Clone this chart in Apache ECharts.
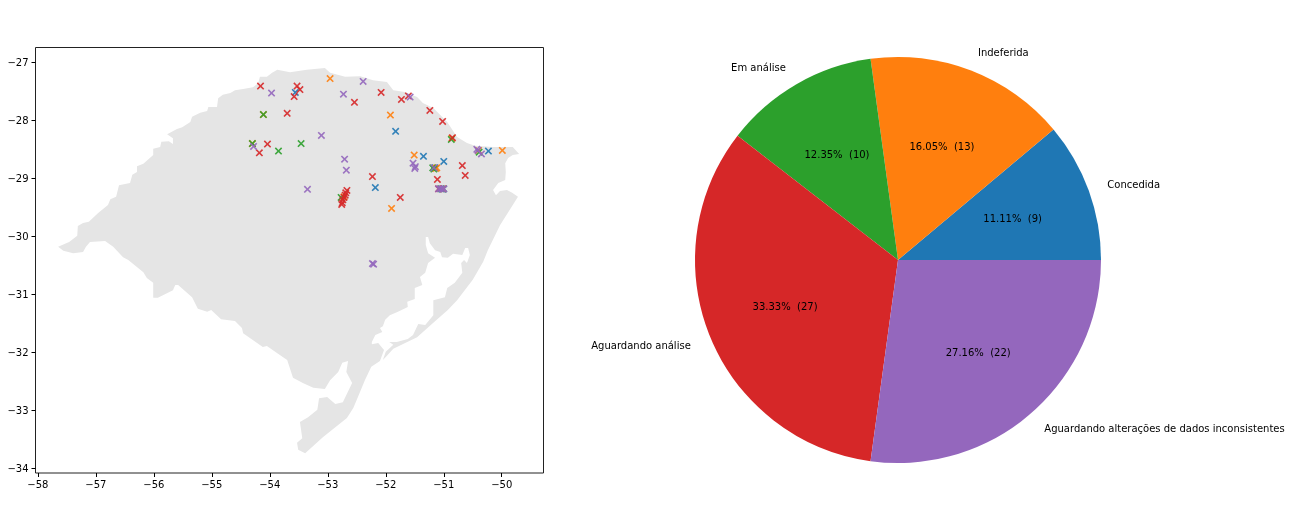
<!DOCTYPE html>
<html><head><meta charset="utf-8">
<style>html,body{margin:0;padding:0;background:#fff}#c{width:1292px;height:521px}</style>
<script src="https://cdn.jsdelivr.net/npm/echarts@6/dist/echarts.min.js"></script>
</head><body><div id="c"></div>
<script>
const xTicks=[-58,-57,-56,-55,-54,-53,-52,-51,-50];
const yTicks=[-34,-33,-32,-31,-30,-29,-28,-27];
const outline=[[-57.65,-30.18],[-57.46,-30.10],[-57.32,-29.99],[-57.31,-29.82],[-57.22,-29.77],[-57.12,-29.75],[-56.96,-29.60],[-56.79,-29.46],[-56.75,-29.36],[-56.65,-29.32],[-56.60,-29.12],[-56.41,-29.08],[-56.37,-28.94],[-56.29,-28.89],[-56.29,-28.79],[-56.18,-28.75],[-56.01,-28.60],[-56.01,-28.49],[-55.89,-28.46],[-55.87,-28.37],[-55.74,-28.36],[-55.67,-28.41],[-55.67,-28.31],[-55.77,-28.24],[-55.60,-28.15],[-55.51,-28.12],[-55.37,-28.03],[-55.34,-27.94],[-55.20,-27.87],[-55.08,-27.84],[-55.06,-27.77],[-54.91,-27.77],[-54.89,-27.62],[-54.81,-27.56],[-54.68,-27.53],[-54.60,-27.48],[-54.46,-27.46],[-54.29,-27.43],[-54.20,-27.36],[-54.17,-27.25],[-54.05,-27.25],[-53.96,-27.18],[-53.87,-27.13],[-53.65,-27.17],[-53.36,-27.13],[-53.05,-27.10],[-52.96,-27.18],[-52.70,-27.25],[-52.44,-27.24],[-52.22,-27.31],[-51.98,-27.34],[-51.87,-27.48],[-51.67,-27.51],[-51.46,-27.60],[-51.36,-27.70],[-51.18,-27.79],[-50.94,-28.03],[-50.77,-28.29],[-50.60,-28.39],[-50.46,-28.44],[-50.15,-28.46],[-49.81,-28.46],[-49.70,-28.58],[-49.81,-28.60],[-49.89,-28.65],[-49.94,-28.74],[-49.93,-28.89],[-49.94,-29.03],[-50.06,-29.08],[-50.15,-29.20],[-50.10,-29.29],[-50.03,-29.22],[-49.91,-29.20],[-49.82,-29.25],[-49.72,-29.32],[-50.03,-29.81],[-50.24,-30.24],[-50.32,-30.44],[-50.50,-30.75],[-50.77,-31.10],[-50.93,-31.27],[-51.18,-31.49],[-51.46,-31.74],[-51.63,-31.82],[-51.87,-31.94],[-52.00,-32.08],[-52.05,-32.13],[-52.00,-31.99],[-51.87,-31.87],[-51.94,-31.82],[-51.81,-31.82],[-51.62,-31.77],[-51.53,-31.70],[-51.44,-31.51],[-51.32,-31.53],[-51.18,-31.36],[-51.18,-31.10],[-50.98,-31.05],[-50.94,-30.89],[-50.81,-30.80],[-50.68,-30.63],[-50.70,-30.46],[-50.65,-30.41],[-50.60,-30.46],[-50.55,-30.32],[-50.58,-30.20],[-50.63,-30.20],[-50.68,-30.32],[-50.84,-30.30],[-50.93,-30.37],[-51.03,-30.36],[-51.06,-30.27],[-51.15,-30.24],[-51.24,-30.12],[-51.27,-30.01],[-51.31,-30.01],[-51.31,-30.15],[-51.27,-30.29],[-51.15,-30.37],[-51.27,-30.46],[-51.32,-30.63],[-51.41,-30.70],[-51.37,-30.84],[-51.50,-30.89],[-51.50,-31.08],[-51.63,-31.13],[-51.62,-31.22],[-51.79,-31.30],[-51.93,-31.36],[-52.01,-31.44],[-52.05,-31.55],[-52.10,-31.58],[-52.06,-31.65],[-52.18,-31.70],[-52.24,-31.82],[-52.24,-31.86],[-52.13,-31.84],[-52.03,-31.96],[-52.10,-32.15],[-52.25,-32.25],[-52.36,-32.48],[-52.48,-32.77],[-52.56,-32.96],[-52.67,-33.13],[-53.08,-33.46],[-53.39,-33.74],[-53.51,-33.68],[-53.53,-33.56],[-53.44,-33.48],[-53.48,-33.20],[-53.34,-33.12],[-53.18,-32.99],[-53.15,-32.79],[-53.01,-32.77],[-52.87,-32.89],[-52.74,-32.86],[-52.58,-32.53],[-52.68,-32.34],[-52.65,-32.15],[-52.75,-32.18],[-52.82,-32.34],[-52.96,-32.48],[-53.05,-32.63],[-53.25,-32.61],[-53.43,-32.53],[-53.60,-32.44],[-53.70,-32.13],[-53.82,-32.05],[-54.05,-31.89],[-54.12,-31.91],[-54.46,-31.67],[-54.48,-31.58],[-54.60,-31.46],[-54.84,-31.43],[-55.01,-31.27],[-55.08,-31.30],[-55.24,-31.25],[-55.34,-31.05],[-55.58,-30.84],[-55.63,-30.84],[-55.67,-30.93],[-55.93,-31.06],[-56.01,-31.06],[-56.01,-30.80],[-56.12,-30.72],[-56.18,-30.62],[-56.44,-30.41],[-56.53,-30.36],[-56.70,-30.18],[-56.84,-30.08],[-57.10,-30.10],[-57.17,-30.18],[-57.22,-30.27],[-57.39,-30.29],[-57.56,-30.25]];
const concedida=[[-51.83,-28.19],[-53.56,-27.52],[-50.23,-28.53],[-51.35,-28.62],[-51.00,-28.71],[-52.18,-29.16],[-51.15,-28.82],[-51.00,-29.18],[-51.02,-29.19]];
const indeferida=[[-54.11,-27.90],[-54.30,-28.40],[-52.96,-27.28],[-51.92,-27.91],[-50.86,-28.31],[-49.99,-28.52],[-51.51,-28.60],[-51.12,-28.82],[-51.90,-29.52],[-51.01,-29.18],[-51.14,-28.83],[-52.72,-29.32],[-50.40,-28.52]];
const emAnalise=[[-54.11,-27.90],[-54.30,-28.40],[-53.85,-28.53],[-50.87,-28.33],[-53.46,-28.40],[-50.39,-28.55],[-51.19,-28.82],[-52.77,-29.33],[-51.17,-28.84],[-51.05,-29.18]];
const aguardando=[[-54.16,-27.41],[-53.70,-27.88],[-54.18,-28.56],[-54.04,-28.41],[-53.53,-27.41],[-53.48,-27.47],[-53.58,-27.59],[-52.54,-27.69],[-52.08,-27.52],[-51.73,-27.64],[-51.61,-27.58],[-51.24,-27.83],[-51.02,-28.02],[-50.85,-28.30],[-50.68,-28.78],[-50.63,-28.95],[-52.23,-28.97],[-51.11,-29.02],[-51.75,-29.33],[-51.09,-29.18],[-52.67,-29.21],[-52.69,-29.25],[-52.70,-29.29],[-52.72,-29.33],[-52.74,-29.37],[-52.75,-29.42],[-52.76,-29.45]];
const alteracoes=[[-53.97,-27.53],[-54.28,-28.45],[-52.39,-27.33],[-52.73,-27.55],[-51.58,-27.60],[-53.11,-28.26],[-50.41,-28.52],[-50.43,-28.50],[-50.35,-28.58],[-52.71,-28.67],[-52.68,-28.86],[-51.53,-28.74],[-51.50,-28.83],[-51.49,-28.80],[-51.17,-28.82],[-51.09,-29.18],[-51.06,-29.18],[-51.03,-29.18],[-51.00,-29.18],[-53.35,-29.19],[-52.21,-30.48],[-52.23,-30.47]];
const statusNames=['Concedida','Indeferida','Em análise','Aguardando análise','Aguardando alterações de dados inconsistentes'];
const statusCounts=[9,13,10,27,22];
const colors=['#1f77b4','#ff7f0e','#2ca02c','#d62728','#9467bd'];
const groups=[concedida,indeferida,emAnalise,aguardando,alteracoes];
const total=statusCounts.reduce((a,b)=>a+b,0);
const font='"DejaVu Sans"';
const cross='path://M1.5,0 L5,3.5 L8.5,0 L10,1.5 L6.5,5 L10,8.5 L8.5,10 L5,6.5 L1.5,10 L0,8.5 L3.5,5 L0,1.5Z';
const minus=v=>String(v).replace('-','\u2212');
const axisBase={type:'value',axisLine:{show:false},splitLine:{show:false},
  axisTick:{show:true,length:4,lineStyle:{color:'#000',width:1}}};
const pieData=statusNames.map((n,i)=>({name:n,value:statusCounts[i]}));
const chart=echarts.init(document.getElementById('c'),null,{renderer:'canvas'});
chart.setOption({
  animation:false,backgroundColor:'#fff',
  textStyle:{fontFamily:font},
  grid:{left:35.5,top:47.5,width:508,height:425.5,show:true,borderColor:'#222',borderWidth:1,backgroundColor:'transparent'},
  xAxis:Object.assign({},axisBase,{min:-58.04,max:-49.28,
    axisTick:Object.assign({},axisBase.axisTick,{customValues:xTicks}),
    axisLabel:{customValues:xTicks,formatter:minus,margin:7,fontSize:10,color:'#000',fontFamily:font}}),
  yAxis:Object.assign({},axisBase,{min:-34.08,max:-26.745,
    axisTick:Object.assign({},axisBase.axisTick,{customValues:yTicks}),
    axisLabel:{customValues:yTicks,formatter:v=>'{t|'+minus(v)+'}',margin:7,fontSize:10,color:'#000',fontFamily:font,
      rich:{t:{fontSize:10,color:'#000',fontFamily:font,padding:[2,0,0,0]}}}}),
  series:[
    {type:'custom',silent:true,z:1,coordinateSystem:'cartesian2d',data:outline,clip:true,
     renderItem(p,api){
       if(p.dataIndex!==0)return null;
       return {type:'polygon',shape:{points:outline.map(c=>api.coord(c))},style:{fill:'#e5e5e5'}};
     }},
    ...groups.map((g,i)=>({type:'scatter',z:2+i,data:g,symbol:cross,symbolSize:7.5,
      itemStyle:{color:colors[i],opacity:0.9},silent:true})),
    {type:'pie',z:10,center:[898,260],radius:[0,203],startAngle:0,clockwise:false,silent:true,
     avoidLabelOverlap:false,minShowLabelAngle:0,data:pieData,color:colors,
     itemStyle:{borderWidth:0},
     label:{show:true,position:'outside',formatter:'{b}',fontSize:10,color:'#000',fontFamily:font,distanceToLabelLine:0},
     labelLine:{show:false,length:20.3,length2:0},
     labelLayout:{dx:-0.5,dy:1.5}},
    {type:'pie',z:11,center:[898,260],radius:[35,203],startAngle:0,clockwise:false,silent:true,
     avoidLabelOverlap:false,minShowLabelAngle:0,data:pieData,
     itemStyle:{color:'transparent',borderWidth:0},
     label:{show:true,position:'inside',fontSize:10,color:'#000',fontFamily:font,
       formatter:p=>(p.value/total*100).toFixed(2)+'%  ('+p.value+')'},
     labelLine:{show:false},
     labelLayout:{dy:1.5}}
  ]
});
</script></body></html>
